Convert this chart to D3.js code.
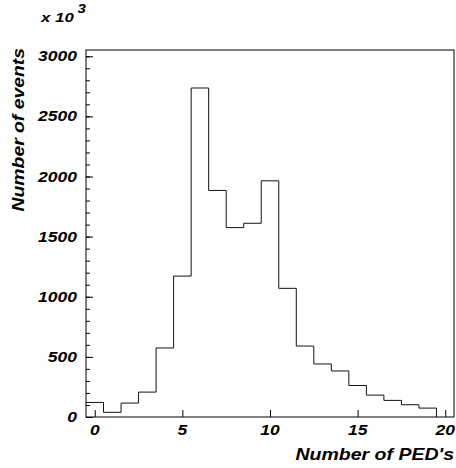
<!DOCTYPE html>
<html>
<head>
<meta charset="utf-8">
<script src="https://cdn.jsdelivr.net/npm/d3@7"></script>
<style>
  body { margin: 0; background: #fff; }
  text { font-family: "Liberation Sans", Arial, sans-serif; font-weight: bold; font-style: italic; }
</style>
</head>
<body>
<div id="chart"></div>
<script>
/* DATA */
// bin centres (number of PED's) and counts
const bins = [0, 1, 2, 3, 4, 5, 6, 7, 8, 9, 10, 11, 12, 13, 14, 15, 16, 17, 18, 19];
const counts = [121, 39, 116, 207, 574, 1172, 2736, 1884, 1575, 1611, 1964, 1070, 590, 441, 383, 262, 182, 138, 102, 74];
const xTicks = [0, 5, 10, 15, 20];
const yTicks = [0, 500, 1000, 1500, 2000, 2500, 3000];

/* CONSTANTS */
const width = 456, height = 468;
const margin = { top: 50, right: 2, bottom: 51, left: 86 };
const stretch = 1.25; // the original lettering is wider than Liberation Sans

const svg = d3.select("#chart").append("svg")
  .attr("width", width)
  .attr("height", height);

/* SCALES */
const xScale = d3.scaleLinear()
  .domain([-0.5, 20.5])
  .range([margin.left, width - margin.right]);

const yScale = d3.scaleLinear()
  .domain([0, 3052])
  .range([height - margin.bottom, margin.top]);

/* HISTOGRAM OUTLINE */
const pts = [];
bins.forEach((b, i) => {
  pts.push([b - 0.5, counts[i]]);
  pts.push([b + 0.5, counts[i]]);
});
pts.push([bins[bins.length - 1] + 0.5, 0]);

svg.append("path")
  .datum(pts)
  .attr("fill", "none")
  .attr("stroke", "#111")
  .attr("stroke-width", 1)
  .attr("d", d3.line().x(d => xScale(d[0])).y(d => yScale(d[1])));

/* FRAME */
svg.append("rect")
  .attr("x", xScale(-0.5))
  .attr("y", yScale(3052))
  .attr("width", xScale(20.5) - xScale(-0.5))
  .attr("height", yScale(0) - yScale(3052))
  .attr("fill", "none")
  .attr("stroke", "#000")
  .attr("stroke-width", 1);

/* Y AXIS: major ticks every 500, minor every 100 */
const yAxis = d3.axisRight(yScale)
  .tickValues(yTicks)
  .tickSize(7)
  .tickFormat("");
const yMinor = d3.axisRight(yScale)
  .tickValues(d3.range(0, 3001, 100))
  .tickSize(4)
  .tickFormat("");

svg.append("g").attr("transform", `translate(${margin.left},0)`).call(yMinor)
  .call(g => g.select(".domain").remove());
svg.append("g").attr("transform", `translate(${margin.left},0)`).call(yAxis)
  .call(g => g.select(".domain").remove());

svg.append("g").selectAll("text")
  .data(yTicks)
  .join("text")
  .attr("transform", d => `translate(77,${yScale(d) + 5}) scale(${stretch},1)`)
  .attr("text-anchor", "end")
  .attr("font-size", "14px")
  .text(d => d);

/* X AXIS: major ticks only */
const xAxis = d3.axisTop(xScale)
  .tickValues(xTicks)
  .tickSize(7)
  .tickFormat("");
svg.append("g").attr("transform", `translate(0,${height - margin.bottom})`).call(xAxis)
  .call(g => g.select(".domain").remove());

svg.append("g").selectAll("text")
  .data(xTicks)
  .join("text")
  .attr("transform", d => `translate(${xScale(d)},435) scale(${stretch},1)`)
  .attr("text-anchor", "middle")
  .attr("font-size", "14px")
  .text(d => d);

/* TITLES */
svg.append("text")
  .attr("transform", `translate(454,460) scale(1.22,1)`)
  .attr("text-anchor", "end")
  .attr("font-size", "16px")
  .text("Number of PED's");

svg.append("text")
  .attr("transform", "translate(24,48) rotate(-90) scale(1.21,1)")
  .attr("text-anchor", "end")
  .attr("font-size", "16px")
  .text("Number of events");

const exp = svg.append("text")
  .attr("transform", `translate(41,22) scale(1.25,1)`)
  .attr("font-size", "13.5px");
exp.append("tspan").text("x 10");
exp.append("tspan").attr("font-size", "12px").attr("dx", 3).attr("dy", -9).text("3");
</script>
</body>
</html>
